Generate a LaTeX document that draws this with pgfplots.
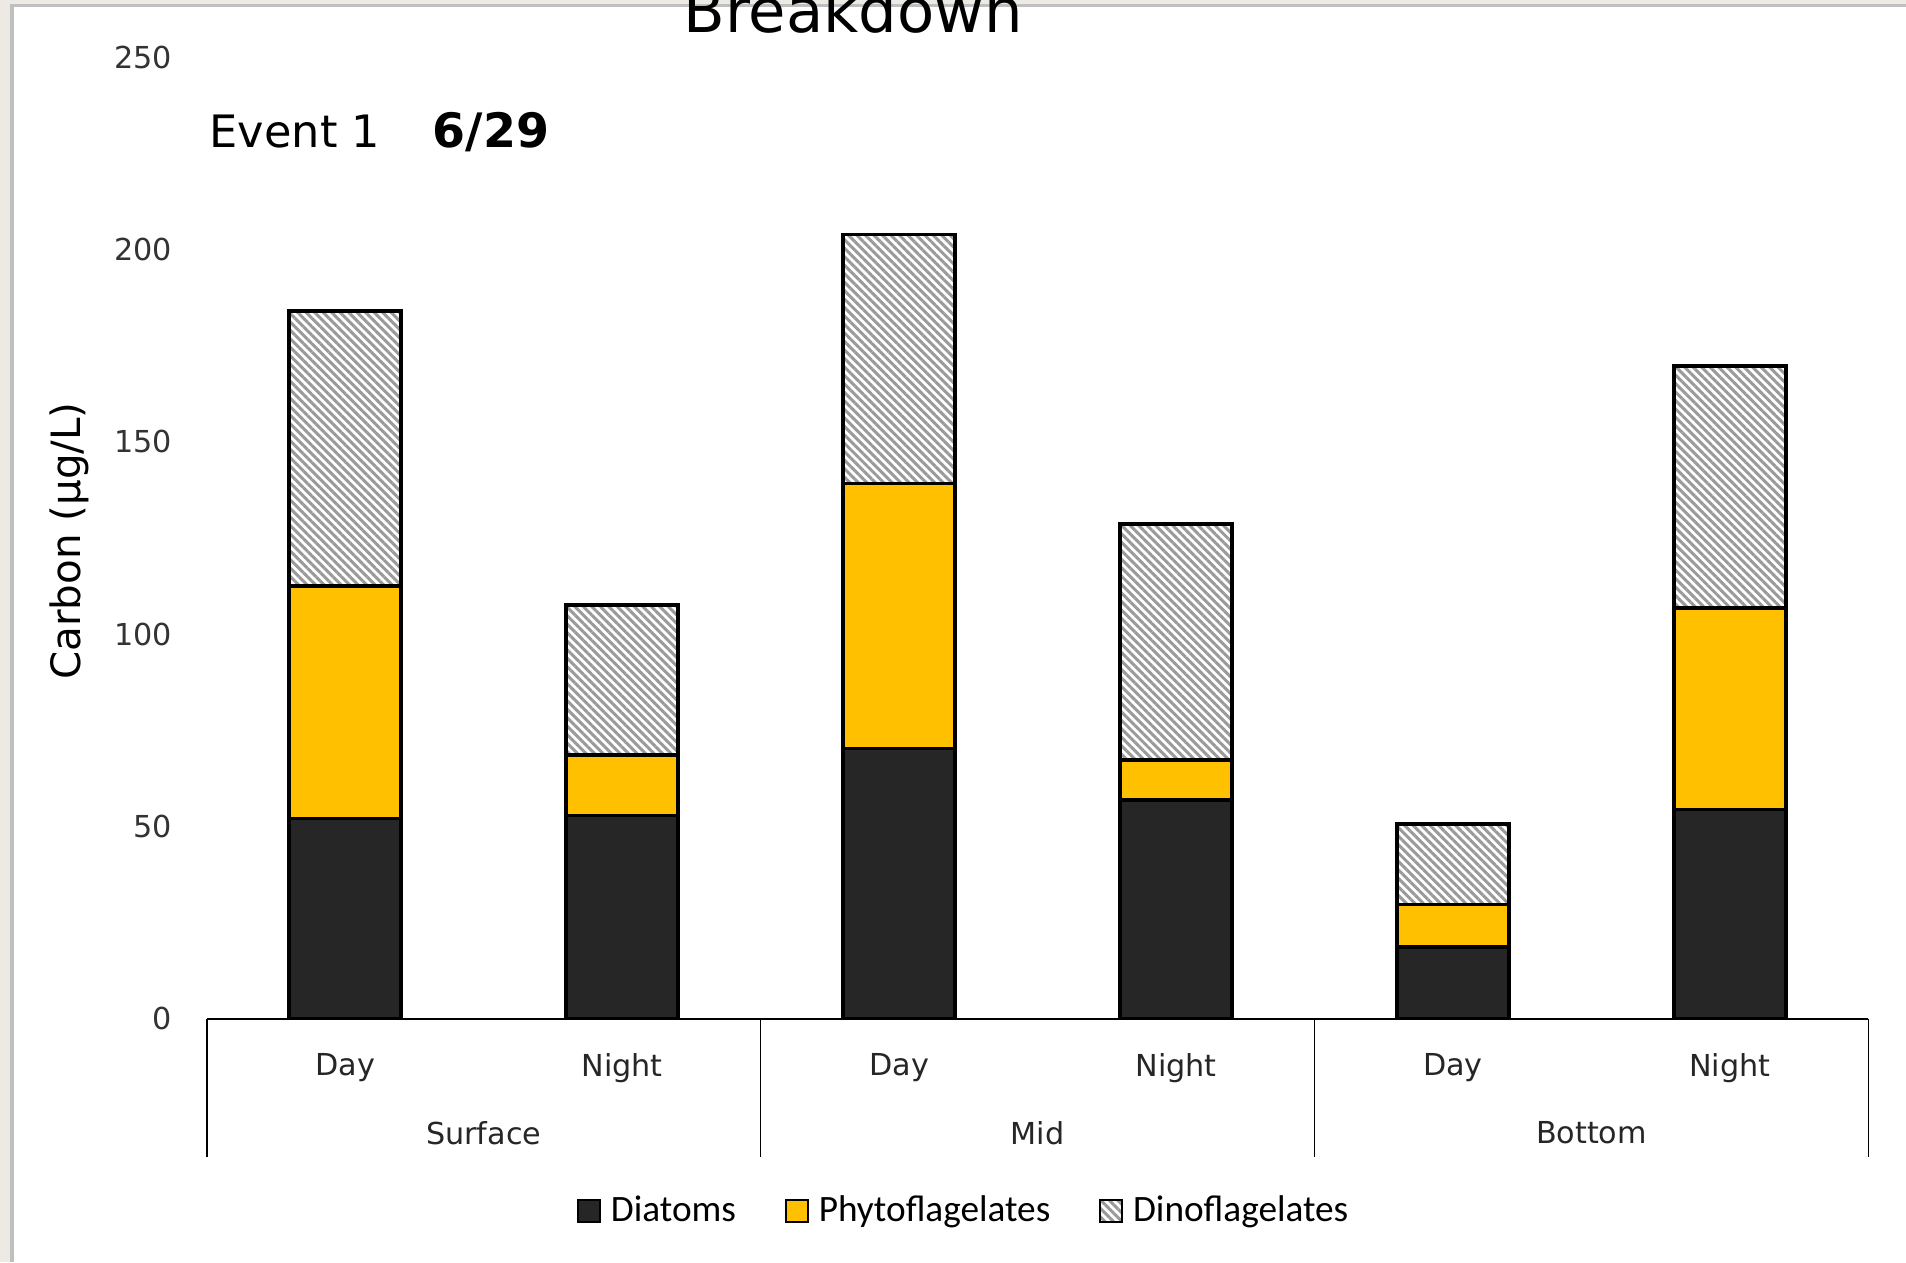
\documentclass[border=0pt]{standalone}
\usepackage{pgfplots}
\pgfplotsset{compat=1.18}
\usepackage{fontspec}
\setmainfont{DejaVu Sans}
\newfontfamily\legfont{Carlito}
\usetikzlibrary{patterns.meta}
\definecolor{diat}{HTML}{262626}
\definecolor{phyto}{HTML}{FFC000}
\definecolor{hatch}{HTML}{9A9A9A}
\definecolor{framec}{HTML}{EDEAE3}
\begin{document}
\begin{tikzpicture}
\useasboundingbox (0,0) rectangle (190.6mm,-126.2mm);
\fill[framec] (0,0) rectangle (190.6mm,-126.2mm);
\fill[white] (1.3mm,-0.7mm) rectangle (190.6mm,-126.2mm);
\draw[black!25, line width=0.35mm] (1.2mm,-126.2mm) -- (1.2mm,-0.55mm) -- (190.6mm,-0.55mm);
\begin{axis}[
  at={(20.67mm,-101.87mm)}, anchor=south west,
  scale only axis, width=166.17mm, height=96.16mm,
  xmin=-0.5, xmax=5.5, ymin=0, ymax=250,
  ybar stacked, bar width=11.2mm,
  clip=false,
  axis x line*=bottom, axis y line*=left,
  y axis line style={draw=none},
  x axis line style={line width=0.5pt},
  xtick={0,...,5}, xticklabels={Day,Night,Day,Night,Day,Night},
  ytick={0,50,...,250},
  major tick length=0pt,
  tick style={draw=none},
  /pgf/number format/assume math mode=true,
  xticklabel style={anchor=north, inner sep=0pt, yshift=-3.4mm, font=\fontsize{8.6}{10}\selectfont, text=black!85},
  yticklabel style={anchor=east, inner sep=0pt, xshift=-3.4mm, font=\fontsize{8.6}{10}\selectfont, text=black!80},
  legend style={at={(axis description cs:0.455,-0.2)}, anchor=center, draw=none, fill=none,
    inner sep=0pt, outer sep=0pt, legend columns=3, font=\legfont\fontsize{10.6}{12}\selectfont,
    column sep=0pt,
    /tikz/every even column/.append style={column sep=4.9mm},
    /tikz/every odd column/.append style={column sep=1mm},
    nodes={inner sep=0pt}},
  legend image code/.code={\draw[#1, line width=0.5pt] (0mm,-1.1mm) rectangle (2.2mm,1.1mm);},
]
\addplot[fill=diat, draw=black, line width=1pt] coordinates {(0,52) (1,52.8) (2,70.2) (3,56.9) (4,18.6) (5,54.4)};
\addplot[fill=phyto, draw=black, line width=1pt] coordinates {(0,60.5) (1,15.8) (2,68.9) (3,10.4) (4,11.1) (5,52.4)};
\addplot[pattern={Lines[angle=-45,distance=0.6mm,line width=0.3mm]}, pattern color=hatch, draw=black, line width=1pt] coordinates {(0,71.5) (1,38.9) (2,64.8) (3,61.3) (4,20.9) (5,62.9)};
\legend{Diatoms, Phytoflagelates, Dinoflagelates}
\draw[line width=0.5pt] (axis cs:-0.5,0) -- ++(0pt,-13.8mm);
\draw[line width=0.5pt] (axis cs:1.5,0) -- ++(0pt,-13.8mm);
\draw[line width=0.5pt] (axis cs:3.5,0) -- ++(0pt,-13.8mm);
\draw[line width=0.5pt] (axis cs:5.5,0) -- ++(0pt,-13.8mm);
\node[anchor=north, inner sep=0pt, font=\fontsize{8.6}{10}\selectfont, text=black!85] at ([yshift=-10.2mm]axis cs:0.5,0) {Surface};
\node[anchor=north, inner sep=0pt, font=\fontsize{8.6}{10}\selectfont, text=black!85] at ([yshift=-10.2mm]axis cs:2.5,0) {Mid};
\node[anchor=north, inner sep=0pt, font=\fontsize{8.6}{10}\selectfont, text=black!85] at ([yshift=-10.2mm]axis cs:4.5,0) {Bottom};
\end{axis}
\node[rotate=90, font=\fontsize{11.5}{13}\selectfont] at (6.9mm,-54.1mm) {Carbon (µg/L)};
\node[anchor=base, inner sep=0pt, font=\fontsize{17.3}{20}\selectfont] at (85.3mm,-3.3mm) {Breakdown};
\node[anchor=base west, inner sep=0pt, font=\fontsize{12.7}{15}\selectfont] at (20.9mm,-14.8mm) {Event 1};
\node[anchor=base west, inner sep=0pt, font=\bfseries\fontsize{13.5}{16}\selectfont] at (43.2mm,-14.8mm) {6/29};
\end{tikzpicture}
\end{document}
